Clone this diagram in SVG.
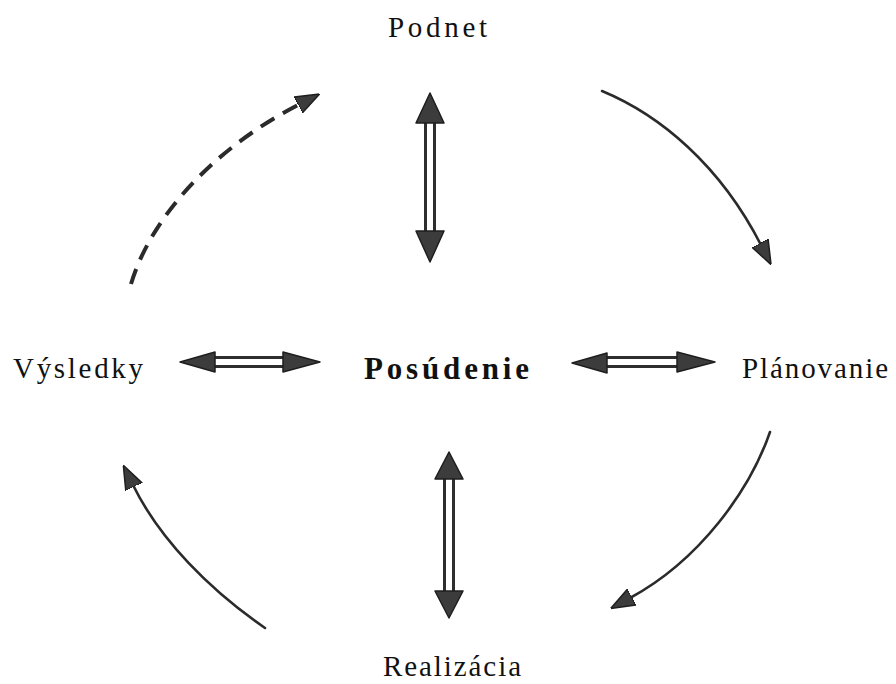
<svg xmlns="http://www.w3.org/2000/svg" width="896" height="684" viewBox="0 0 896 684">
<style>
.lbl{font-family:"Liberation Serif","Times New Roman",serif;font-size:29px;fill:#111}
.bold{font-weight:bold;font-size:31px}
.arc{fill:none;stroke:#2b2b2b;stroke-width:2.6;stroke-linecap:round}
.dash{stroke-width:4;stroke-dasharray:16 10;stroke-linecap:butt}
.shaft{fill:none;stroke:#2e2e2e;stroke-width:3}
.head{fill:#3c3c3c;stroke:#1e1e1e;stroke-width:1.5;stroke-linejoin:round}
</style>
<defs>
<marker id="ah" viewBox="0 0 24 20" refX="2" refY="10" markerWidth="24" markerHeight="20" markerUnits="userSpaceOnUse" orient="auto">
<path d="M0,1 L24,10 L0,19 Z" fill="#3c3c3c" stroke="#1e1e1e" stroke-width="1.5" stroke-linejoin="round"/>
</marker>
</defs>
<rect width="896" height="684" fill="#fff"/>
<g id="node-podnet"><text class="lbl" x="388" y="37" textLength="99" lengthAdjust="spacing">Podnet</text></g>
<g id="node-vysledky"><text class="lbl" x="13" y="378" textLength="130" lengthAdjust="spacing">Výsledky</text></g>
<g id="node-posudenie"><text class="lbl bold" x="364" y="379" textLength="165" lengthAdjust="spacing">Posúdenie</text></g>
<g id="node-planovanie"><text class="lbl" x="742" y="378" textLength="146" lengthAdjust="spacing">Plánovanie</text></g>
<g id="node-realizacia"><text class="lbl" x="383" y="676" textLength="138" lengthAdjust="spacing">Realizácia</text></g>
<g id="connectors">
<path class="arc dash" d="M131,284 C150,220 210,150 300,104" marker-end="url(#ah)"/>
<path class="arc" d="M602,91 C660,115 720,165 761,245" marker-end="url(#ah)"/>
<path class="arc" d="M770,432 C750,490 700,560 630,598" marker-end="url(#ah)"/>
<path class="arc" d="M265,628 C210,590 160,540 133,485" marker-end="url(#ah)"/>
<g>
<path class="shaft" d="M425.5,122 V232 M434.5,122 V232"/>
<path class="head" d="M430,93 L444,123 L416,123 Z"/>
<path class="head" d="M430,262 L444,231 L416,231 Z"/>
</g>
<g>
<path class="shaft" d="M444.5,478 V592 M453.5,478 V592"/>
<path class="head" d="M449,452 L463,479 L435,479 Z"/>
<path class="head" d="M449,618 L463,591 L435,591 Z"/>
</g>
<g>
<path class="shaft" d="M214,357.5 H284 M214,366.5 H284"/>
<path class="head" d="M180,362 L215,352 L215,372 Z"/>
<path class="head" d="M320,362 L283,352 L283,372 Z"/>
</g>
<g>
<path class="shaft" d="M606,357.5 H678 M606,366.5 H678"/>
<path class="head" d="M572,363 L607,353 L607,373 Z"/>
<path class="head" d="M715,362 L677,352 L677,372 Z"/>
</g>
</g>
</svg>
